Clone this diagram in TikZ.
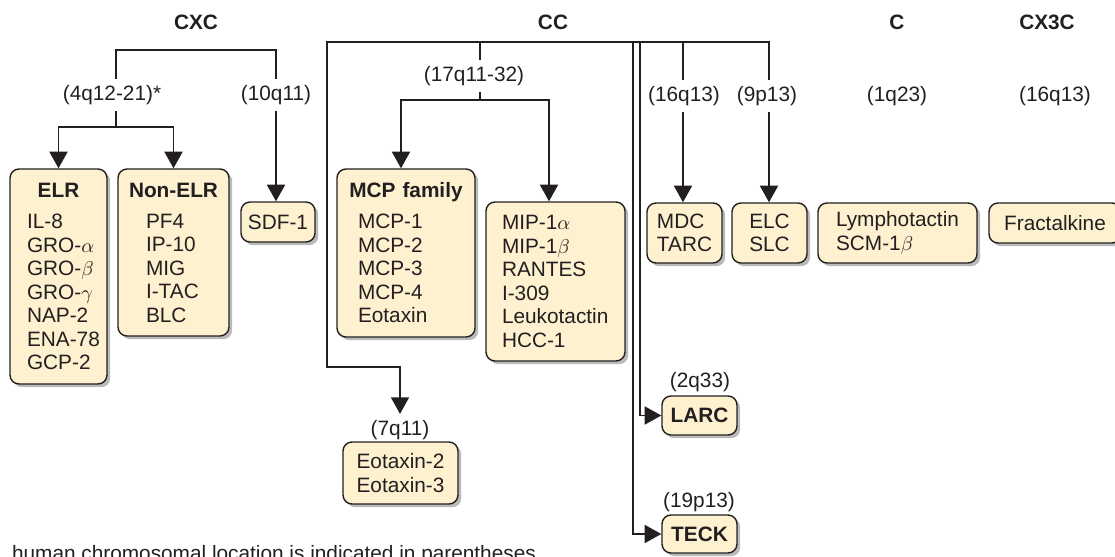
\documentclass[tikz,border=0pt]{standalone}
\usepackage{fontspec}
\setmainfont{Liberation Sans}
\usetikzlibrary{arrows.meta, shadows}
\definecolor{ink}{RGB}{35,31,32}
\definecolor{boxfill}{RGB}{253,241,208}

\begin{document}
\begin{tikzpicture}[x=0.5pt,y=-0.5pt,
    every node/.style={font=\fontsize{10.4pt}{11.75pt}\selectfont, text=ink},
    link/.style={draw=ink, line width=0.9pt},
    arr/.style={link, -{Triangle[width=9pt,length=8.3pt]}},
    loc/.style={fill=white, inner sep=3pt},
    chem/.style={draw=ink, line width=0.7pt, rounded corners=4.5pt, fill=boxfill, inner sep=0pt,
        execute at begin node={\exhyphenpenalty=10000\relax\hyphenpenalty=10000\relax},
        drop shadow={shadow xshift=1.6pt, shadow yshift=-1.6pt, fill=black!45, opacity=0.6}}]
\useasboundingbox (0,0) rectangle (1115,557);

\foreach \n/\x/\t in {hcxc/196/CXC, hcc/553/CC, hc/897/C, hcxxxc/1047/CX3C}
    \node[font=\fontsize{10.4pt}{11.75pt}\selectfont\bfseries] (\n) at (\x,22) {\t};

\foreach \n/\x/\y/\t in {lab4q/112/95/(4q12-21)*, lab10q/276/95/(10q11), lab17q/474/76/(17q11-32),
        lab7q/400/430/(7q11), lab16q/684/96/(16q13), lab9p/767/96/(9p13), lab1q/897/96/(1q23),
        lab16r/1055/96/(16q13), lab2q/700/382/(2q33), lab19p/699/502/(19p13)}
    \node[loc] (\n) at (\x,\y) {\t};

\node[chem, align=left, text width=31.5pt, minimum width=48.5pt, minimum height=107.5pt] (elr) at (58.5,276.5)
    {\makebox[\linewidth]{\bfseries ELR}\\[3.75pt]IL-8\\GRO-$\alpha$\\GRO-$\beta$\\GRO-$\gamma$\\NAP-2\\ENA-78\\GCP-2};
\node[chem, align=left, text width=27.5pt, minimum width=55.5pt, minimum height=83.5pt] (nonelr) at (173.5,252.5)
    {\makebox[\linewidth]{\bfseries Non-ELR}\\[3.75pt]PF4\\IP-10\\MIG\\I-TAC\\BLC};
\node[chem, minimum width=37pt, minimum height=20pt] (sdf) at (278,222) {SDF-1};
\node[chem, align=left, text width=48pt, minimum width=69pt, minimum height=84pt] (mcp) at (406,253)
    {\makebox[\linewidth]{\bfseries MCP family}\\[3.75pt]MCP-1\\MCP-2\\MCP-3\\MCP-4\\Eotaxin};
\node[chem, align=left, text width=53.5pt, minimum width=69.5pt, minimum height=79.5pt] (mip) at (555.5,281.5)
    {MIP-1$\alpha$\\MIP-1$\beta$\\RANTES\\I-309\\Leukotactin\\HCC-1};
\node[chem, align=left, minimum width=57.5pt, minimum height=31pt] (eotax) at (400.5,473) {Eotaxin-2\\Eotaxin-3};
\node[chem, align=left, minimum width=37.5pt, minimum height=30pt] (mdc) at (684.5,233) {MDC\\TARC};
\node[chem, align=left, minimum width=37.5pt, minimum height=30pt] (elc) at (769.5,233) {ELC\\SLC};
\node[chem, align=left, minimum width=79.5pt, minimum height=30pt] (lym) at (897.5,233) {Lymphotactin\\SCM-1$\beta$};
\node[chem, minimum width=66pt, minimum height=20pt] (frac) at (1055,223) {Fractalkine};
\node[chem, minimum width=37.5pt, minimum height=19.5pt] (larc) at (699.5,415.5) {\bfseries LARC};
\node[chem, minimum width=37.5pt, minimum height=19pt] (teck) at (699.5,534) {\bfseries TECK};

\coordinate (cxcL) at (116,50);
\coordinate (cxcR) at (276,50);
\coordinate (cxcS) at (116,127);
\coordinate (ccL) at (327,42);
\coordinate (ccR) at (769,42);
\coordinate (ccTurn) at (327,367);
\coordinate (c17) at (480,42);
\coordinate (c17S) at (480,100);
\coordinate (cTk) at (633,42);
\coordinate (cLa) at (640,42);
\coordinate (c16) at (683,42);

\draw[link] (lab4q.north -| cxcL) -- (cxcL) -- (cxcR) -- (lab10q);
\draw[link] (lab4q.south -| cxcL) -- (cxcS);
\draw[arr] (cxcS) -| (elr);
\draw[arr] (cxcS) -| (nonelr);
\draw[arr] (lab10q) -- (lab10q |- sdf.north);

\draw[arr] (lab9p.north -| ccR) -- (ccR) -- (ccL) -- (ccTurn) -| (lab7q);
\draw[link] (c17) -- (c17 |- lab17q.north);
\draw[link] (lab17q.south -| c17) -- (c17S);
\draw[arr] (c17S) -| ([xshift=-2.5pt]mcp.north);
\draw[arr] (c17S) -| ([xshift=-3.25pt]mip.north);
\draw[arr] (cTk) |- (teck);
\draw[arr] (cLa) |- (larc);
\draw[link] (c16) -- (c16 |- lab16q.north);
\draw[arr] (lab16q.south -| c16) -- (c16 |- mdc.north);
\draw[arr] (lab9p.south -| ccR) -- (ccR |- elc.north);

\node[anchor=base west] (note) at (5,560) {human chromosomal location is indicated in parentheses};
\end{tikzpicture}
\end{document}
